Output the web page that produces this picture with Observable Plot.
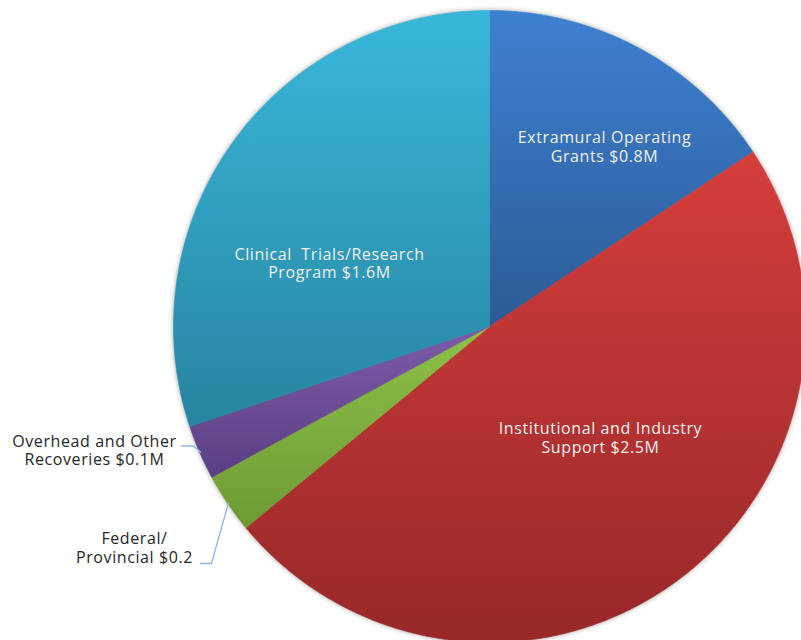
<!DOCTYPE html>
<html><head><meta charset="utf-8">
<script src="https://cdn.jsdelivr.net/npm/d3@7"></script>
<script src="https://cdn.jsdelivr.net/npm/@observablehq/plot@0.6"></script>
<style>
html,body{margin:0;padding:0;background:#fff}
#chart svg{display:block}
</style>
</head><body><div id="chart"></div>
<script>
// ---- data (slice sizes by angle, labels as printed) ----
const categories = ["Extramural Operating Grants", "Institutional and Industry Support", "Federal/Provincial", "Overhead and Other Recoveries", "Clinical Trials/Research Program"];
const amounts = [0.815, 2.51, 0.16, 0.145, 1.565];
const labels = ["Extramural Operating\nGrants $0.8M", "Institutional and Industry\nSupport $2.5M", "Federal/\nProvincial $0.2", "Overhead and Other\nRecoveries $0.1M", "Clinical  Trials/Research\nProgram $1.6M"];

// ---- layout & style ----
const W = 801, H = 640, CX = 489, CY = 326, R = 316;
const FONT = "'Open Sans', 'Noto Sans', sans-serif";
const gradTop = ["#3e81d1", "#d53e3c", "#8dc147", "#7d5ca8", "#39b7db"];
const gradBottom = ["#2c5b96", "#982829", "#6e9935", "#5a3e83", "#2785a0"];
const labelPos = [
  {x: 604, y: 146, fill: "#f0f0f0"},
  {x: 600, y: 437, fill: "#f0f0f0"},
  {x: 134, y: 547, fill: "#262626"},
  {x: 94, y: 449.5, fill: "#262626"},
  {x: 329, y: 262.5, fill: "#f0f0f0"}
];
const leaderElbows = {2: [[211, 563], [200, 563]], 3: [[193, 445.5], [181, 445.5]]};

const arcs = d3.pie().sort(null).value(d => d)(amounts);
const slicePts = arcs.flatMap((a, i) => {
  const pts = [{i, x: CX, y: CY}];
  const n = Math.max(4, Math.ceil((a.endAngle - a.startAngle) / 0.004));
  for (let k = 0; k <= n; k++) {
    const ang = a.startAngle + (a.endAngle - a.startAngle) * k / n;
    pts.push({i, x: CX + R * Math.sin(ang), y: CY - R * Math.cos(ang)});
  }
  pts.push({i, x: CX, y: CY});
  return pts;
});
const leaderPts = Object.entries(leaderElbows).flatMap(([k, elbow]) => {
  const a = arcs[+k], mid = (a.startAngle + a.endAngle) / 2, r = R - 1;
  return [{k, x: CX + r * Math.sin(mid), y: CY - r * Math.cos(mid)}, ...elbow.map(([x, y]) => ({k, x, y}))];
});
const textData = labels.map((t, i) => ({t, ...labelPos[i]}));

const chart = Plot.plot({
  width: W, height: H, margin: 0,
  x: {domain: [0, W], range: [0, W], axis: null},
  y: {domain: [0, H], range: [0, H], axis: null},
  color: {type: "identity"},
  marks: [
    Plot.line(slicePts, {x: "x", y: "y", z: "i", fill: d => `url(#grad${d.i})`, stroke: d => `url(#grad${d.i})`, strokeWidth: 0.6, curve: "linear"}),
    Plot.line(leaderPts, {x: "x", y: "y", z: "k", stroke: "#8db4e4", strokeWidth: 1.3, curve: "linear", strokeLinejoin: "round"}),
    Plot.text(textData, {x: "x", y: "y", text: "t", fill: "fill", fontSize: 16, lineHeight: 1.17, textAnchor: "middle", lineAnchor: "middle", fontFamily: FONT})
  ]
});
chart.style.fontFamily = FONT;
chart.style.letterSpacing = "0.6px";
const ns = "http://www.w3.org/2000/svg";
const defs = document.createElementNS(ns, "defs");
gradTop.forEach((c, i) => {
  const g = document.createElementNS(ns, "linearGradient");
  g.setAttribute("id", "grad" + i);
  g.setAttribute("x1", "0"); g.setAttribute("y1", "0"); g.setAttribute("x2", "0"); g.setAttribute("y2", "1");
  [[0, c], [1, gradBottom[i]]].forEach(([o, col]) => {
    const s = document.createElementNS(ns, "stop");
    s.setAttribute("offset", o); s.setAttribute("stop-color", col);
    g.appendChild(s);
  });
  defs.appendChild(g);
});
chart.insertBefore(defs, chart.firstChild);
const pieG = chart.querySelectorAll('g[aria-label="line"]')[0];
if (pieG) pieG.style.filter = "drop-shadow(0px 0px 2.5px rgba(0,0,0,0.35))";
document.getElementById("chart").appendChild(chart);
</script>
</body></html>
